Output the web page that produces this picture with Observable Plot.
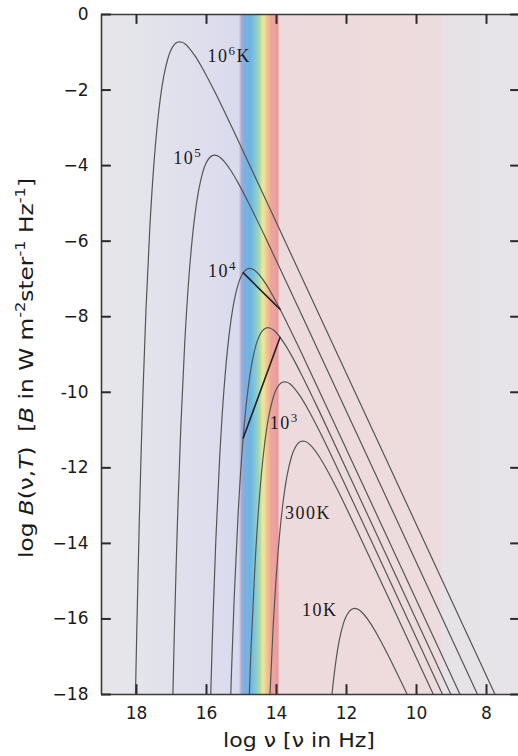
<!DOCTYPE html>
<html><head><meta charset="utf-8">
<script src="https://cdn.jsdelivr.net/npm/d3@7"></script>
<script src="https://cdn.jsdelivr.net/npm/@observablehq/plot@0.6"></script>
<style>
html,body{margin:0;padding:0;background:#fff;overflow:hidden;}
</style></head><body><div id="chart"></div>
<script>
// Temperatures of the curves (K)
const temperatures = ["1e6", "1e5", "1e4", "3000", "1000", "300", "10"];
// [log nu, log B]
const curve1e6 = [[18.097,-21.598],[18.018,-17.493],[17.921,-13.441],[17.837,-10.651],[17.734,-7.922],[17.620,-5.658],[17.495,-3.861],[17.360,-2.528],[17.222,-1.640],[17.097,-1.145],[17.018,-0.947],[16.921,-0.798],[16.837,-0.736],[16.769,-0.722],[16.699,-0.735],[16.620,-0.777],[16.495,-0.889],[16.319,-1.110],[16.097,-1.456],[15.796,-1.988],[15.319,-2.897],[14.319,-4.877],[7.256,-19.0]];
const curve1e5 = [[17.018,-20.493],[16.921,-16.441],[16.837,-13.651],[16.734,-10.922],[16.620,-8.658],[16.495,-6.861],[16.360,-5.528],[16.222,-4.640],[16.097,-4.145],[16.018,-3.947],[15.921,-3.798],[15.837,-3.736],[15.769,-3.722],[15.699,-3.735],[15.620,-3.777],[15.495,-3.889],[15.319,-4.110],[15.097,-4.456],[14.796,-4.988],[14.319,-5.897],[13.319,-7.877],[7.756,-19.0]];
const curve1e4 = [[15.921,-19.441],[15.837,-16.651],[15.734,-13.922],[15.620,-11.658],[15.495,-9.861],[15.360,-8.528],[15.222,-7.640],[15.097,-7.145],[15.018,-6.947],[14.921,-6.798],[14.837,-6.736],[14.769,-6.722],[14.699,-6.735],[14.620,-6.777],[14.495,-6.889],[14.319,-7.110],[14.097,-7.456],[13.796,-7.988],[13.319,-8.897],[12.319,-10.877],[8.256,-19.0]];
const curve3000 = [[15.398,-21.009],[15.314,-18.220],[15.211,-15.490],[15.097,-13.227],[14.972,-11.430],[14.837,-10.097],[14.699,-9.209],[14.574,-8.714],[14.495,-8.515],[14.398,-8.367],[14.314,-8.305],[14.246,-8.291],[14.176,-8.304],[14.097,-8.346],[13.972,-8.457],[13.796,-8.679],[13.574,-9.024],[13.273,-9.556],[12.796,-10.466],[11.796,-12.446],[8.518,-19.0]];
const curve1000 = [[14.837,-19.651],[14.734,-16.922],[14.620,-14.658],[14.495,-12.861],[14.360,-11.528],[14.222,-10.640],[14.097,-10.145],[14.018,-9.947],[13.921,-9.798],[13.837,-9.736],[13.769,-9.722],[13.699,-9.735],[13.620,-9.777],[13.495,-9.889],[13.319,-10.110],[13.097,-10.456],[12.796,-10.988],[12.319,-11.897],[11.319,-13.877],[8.756,-19.0]];
const curve300 = [[14.314,-21.220],[14.211,-18.490],[14.097,-16.227],[13.972,-14.430],[13.837,-13.097],[13.699,-12.209],[13.574,-11.714],[13.495,-11.515],[13.398,-11.367],[13.314,-11.305],[13.246,-11.291],[13.176,-11.304],[13.097,-11.346],[12.972,-11.457],[12.796,-11.679],[12.574,-12.024],[12.273,-12.556],[11.796,-13.466],[10.796,-15.446],[9.018,-19.0]];
const curve10 = [[12.620,-20.658],[12.495,-18.861],[12.360,-17.528],[12.222,-16.640],[12.097,-16.145],[12.018,-15.947],[11.921,-15.798],[11.837,-15.736],[11.769,-15.722],[11.699,-15.735],[11.620,-15.777],[11.495,-15.889],[11.319,-16.110],[11.097,-16.456],[10.796,-16.988],[10.319,-17.897],[9.319,-19.877]];
// dark chords across the visible band
const chord1e4 = [[14.95,-6.84],[13.9,-7.80]];
const chord3000 = [[14.95,-11.21],[13.9,-8.55]];
// curve labels: base, superscript, suffix
const labelBase = ["10", "10", "10", "10", "300K", "10K"];
const labelSup = ["6", "5", "4", "3", "", ""];
const labelSuffix = ["K", "", "", "", "", ""];
const labelLogNu = [15.97, 16.95, 15.96, 14.19, 13.76, 13.27];
const labelLogB = [-1.10, -3.81, -6.80, -10.81, -13.20, -15.77];
// ticks
const xTicks = [18, 16, 14, 12, 10, 8];
const yTicks = [0, -2, -4, -6, -8, -10, -12, -14, -16, -18];
const yTickLabels = ["0", "−2", "−4", "−6", "−8", "-10", "-12", "−14", "−16", "−18"];

// background (decoration): [log nu, colour]
const bgStops = [[19.0,"#e7e7ea"],[17.3,"#e2e2ec"],[15.08,"#dadaee"],[15.0,"#a4acd9"],[14.93,"#80b0e0"],[14.75,"#6cb4e2"],[14.6,"#84c9d4"],[14.49,"#acd9a6"],[14.39,"#ecea9c"],[14.29,"#f2c992"],[14.17,"#eea89a"],[13.96,"#e99aa2"],[13.92,"#eddadc"],[9.35,"#eddcdd"],[9.2,"#e6e3e7"],[7.0,"#e6e4e8"]];

const curves = [curve1e6, curve1e5, curve1e4, curve3000, curve1000, curve300, curve10];
const rows = curves.flatMap((c, k) => c.map(([x, y]) => ({T: temperatures[k], x, y})));
const chordRows = [chord1e4, chord3000].flatMap((c, k) => c.map(([x, y]) => ({k, x, y})));
const labelRows = labelBase.map((t, i) => ({t, sup: labelSup[i], suf: labelSuffix[i], x: labelLogNu[i], y: labelLogB[i]}));

const W = 518, H = 756, mL = 101, mR = 0, mT = 14, mB = 62;
// tick rows: one per tick per side, positioned by Plot from the tick values
const tickRowsX = xTicks.flatMap(v => [{v, side: "bottom"}, {v, side: "top"}]);
const tickRowsY = yTicks.flatMap(v => [{v, side: "left"}, {v, side: "right"}]);

const chart = Plot.plot({
  width: W, height: H,
  marginLeft: mL, marginRight: mR, marginTop: mT, marginBottom: mB,
  style: {background: "#fff"},
  x: {domain: [19, 7.086], axis: null},
  y: {domain: [-18, 0], axis: null},
  marks: [
    Plot.frame({fill: "url(#bg)", stroke: "none"}),
    Plot.line(rows, {x: "x", y: "y", z: "T", curve: "catmull-rom", stroke: "#555", strokeWidth: 1.2, clip: true}),
    Plot.line(chordRows, {x: "x", y: "y", z: "k", stroke: "#222", strokeWidth: 1.6}),
    Plot.ruleX([19], {stroke: "#3a3a3a", strokeWidth: 1.6}),
    Plot.ruleY([0, -18], {stroke: "#3a3a3a", strokeWidth: 1.6}),
    // tick marks as text glyphs are avoided; use dots-free short rules
    Plot.ruleX(tickRowsX.filter(d => d.side === "bottom"), {x: "v", y1: -18, y2: -17.74, stroke: "#2a2a2a", strokeWidth: 2}),
    Plot.ruleX(tickRowsX.filter(d => d.side === "top"), {x: "v", y1: -0.26, y2: 0, stroke: "#2a2a2a", strokeWidth: 2}),
    Plot.ruleY(tickRowsY.filter(d => d.side === "left"), {y: "v", x1: 19, x2: 18.72, stroke: "#2a2a2a", strokeWidth: 2}),
    Plot.ruleY(tickRowsY.filter(d => d.side === "right"), {y: "v", x1: 7.086, x2: 7.31, stroke: "#2a2a2a", strokeWidth: 2}),
    Plot.text(xTicks, {x: d => d, frameAnchor: "bottom", dy: 24, text: d => String(d), fontSize: 17, fontFamily: "DejaVu Sans", fill: "#1a1a1a"}),
    Plot.text(yTicks, {y: d => d, frameAnchor: "left", dx: -13, textAnchor: "end", text: (d, i) => yTickLabels[i], fontSize: 17, fontFamily: "DejaVu Sans", fill: "#1a1a1a"}),
    Plot.text(labelRows, {x: "x", y: "y", text: "t", textAnchor: "start", fontSize: 18, fontFamily: "Liberation Serif", fill: "#1a1a1a"})
  ]
});

const svg = d3.select(chart);
const xs = chart.scale("x");
const x0 = xs.apply(19), x1 = xs.apply(7.086);
const grad = svg.insert("defs", ":first-child").append("linearGradient")
  .attr("id", "bg").attr("x1", 0).attr("x2", 1).attr("y1", 0).attr("y2", 0);
bgStops.forEach(([nu, col]) => grad.append("stop")
  .attr("offset", (xs.apply(nu) - x0) / (x1 - x0)).attr("stop-color", col));

// curve labels with real superscripts
svg.selectAll('g[font-family="Liberation Serif"] text').each(function(_, i) {
  const r = labelRows[i];
  const el = d3.select(this).attr("letter-spacing", 1.5).text(null);
  el.append("tspan").text(r.t);
  if (r.sup) {
    el.append("tspan").attr("font-size", 13).attr("dy", -7).text(r.sup);
    if (r.suf) el.append("tspan").attr("dy", 7).text(r.suf);
  }
});

// axis titles
svg.append("text")
  .attr("x", 299).attr("y", 747).attr("text-anchor", "middle")
  .attr("font-family", "DejaVu Sans").attr("font-size", 19).attr("fill", "#1a1a1a")
  .attr("textLength", 152).attr("lengthAdjust", "spacingAndGlyphs")
  .text("log ν [ν in Hz]");

const yt = svg.append("text")
  .attr("transform", "translate(33,368) rotate(-90)").attr("text-anchor", "middle")
  .attr("font-family", "DejaVu Sans").attr("font-size", 20).attr("fill", "#1a1a1a")
  .attr("textLength", 380).attr("lengthAdjust", "spacingAndGlyphs")
  .style("white-space", "pre");
const parts = [["log ", ""], ["B", "i"], ["(ν,", ""], ["T", "i"], [")  [", ""], ["B", "i"], [" in W m", ""], ["-2", "s"], ["ster", "b"], ["-1", "s"], [" Hz", "b"], ["-1", "s"], ["]", "b"]];
parts.forEach(([t, kind]) => {
  const ts = yt.append("tspan").text(t);
  if (kind === "i") ts.attr("font-style", "italic");
  if (kind === "s") ts.attr("font-size", 14).attr("dy", -8);
  if (kind === "b") ts.attr("dy", 8);
});

document.getElementById("chart").appendChild(chart);
</script></body></html>
